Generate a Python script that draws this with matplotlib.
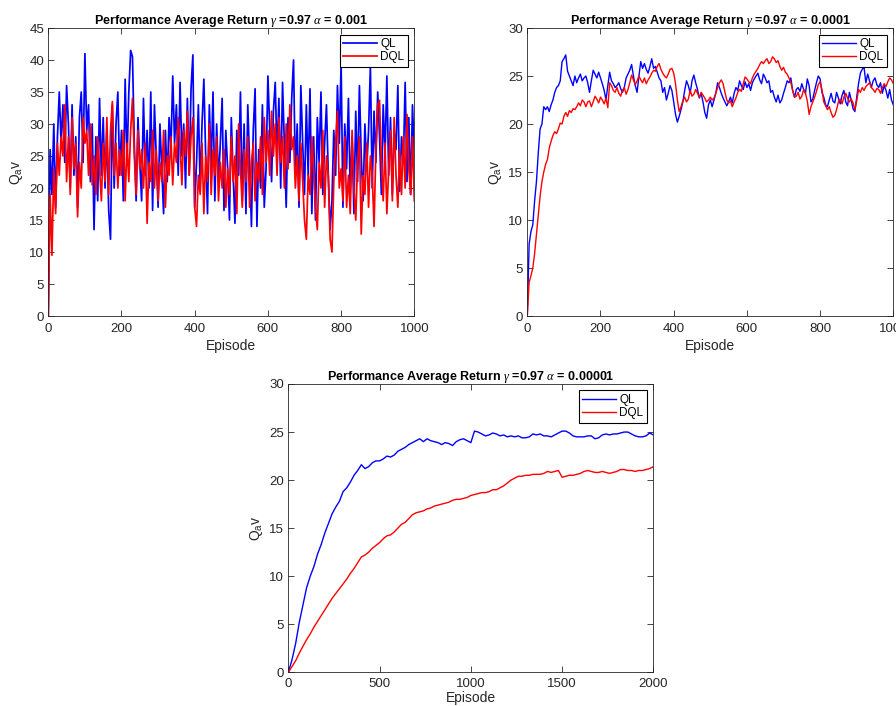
import numpy as np
import matplotlib
matplotlib.use("Agg")
import matplotlib.pyplot as plt

plt.rcParams['font.family'] = ['Liberation Sans', 'DejaVu Sans']
plt.rcParams['mathtext.fontset'] = 'custom'
plt.rcParams['mathtext.rm'] = 'Liberation Sans'
plt.rcParams['mathtext.it'] = 'Liberation Serif:italic'
plt.rcParams['mathtext.bf'] = 'Liberation Sans:bold'

# ---------------- data ----------------
# Plot 1: alpha = 0.001 (episodes every 5)
ep1_step = 5
ql_a1 = [0, 26, 19, 30, 17, 28, 35, 27, 33, 24, 36, 30, 20, 33, 22, 28, 17, 31, 35, 24,
         41, 29, 33, 21, 30, 13.5, 28, 18, 34, 22, 31, 20, 29, 16.5, 12, 33, 20, 30, 35, 22,
         29, 18, 37, 24, 35, 41.5, 40.5, 27, 18, 31, 24, 18, 34, 22, 29, 20, 35, 16.5, 33, 25,
         17, 30, 23, 16, 29, 21, 31, 26, 37.5, 27, 33, 22, 36.5, 25, 30, 20, 34, 22, 35.5, 40.8,
         17, 24, 33, 20, 30, 37, 25, 16, 33, 23, 35, 18, 30, 21, 27, 34, 16.5, 29, 23, 15,
         31, 22, 14.5, 29, 22, 35, 18, 30, 16, 33, 24, 14, 29, 35.5, 14, 26, 20, 33, 17, 23,
         37.5, 29, 21, 32, 36.5, 25, 34, 20, 36.5, 27, 17, 31, 24, 34, 40, 22, 30, 17, 36, 27,
         19, 33, 22, 35.5, 16, 28, 15, 31, 24, 35, 19, 27, 33, 22, 13.5, 18, 29, 22, 36, 27,
         39.5, 17, 30, 23, 34, 19, 28, 16, 32, 21, 36, 25, 18, 30, 23, 29, 39, 20, 32, 24,
         35, 28, 19, 33, 25, 37.5, 22, 31, 19, 29, 26, 36, 19.5, 28, 24, 36.5, 21, 31, 19, 33,
         25]
dql_a1 = [0, 19, 9.5, 23, 16, 27, 22, 28, 25, 33, 21, 28, 19, 31, 23, 27, 15.5, 24, 20, 31,
          27, 29, 22, 30, 20.5, 25, 19, 28, 23, 18, 27, 21, 31, 19, 29, 33.5, 22, 27, 20, 26,
          22, 29, 18, 27, 21, 29, 34, 25, 19, 29, 23, 26, 20, 27, 14.5, 24, 21, 29, 20, 26,
          18, 24, 21, 29, 17, 25, 22, 28, 20.5, 27, 24, 31, 27, 20.5, 29, 25, 32, 22, 28, 31,
          17, 14, 22, 19, 27, 16, 25, 21, 30, 19, 26, 22, 28, 18, 24, 20, 26, 17, 23, 19,
          28, 21, 25, 16, 30, 23, 17, 26, 21, 28, 17, 24, 27, 18, 24, 21, 28, 19, 31, 24,
          29, 22, 32, 25, 30, 22, 31, 24, 28, 20, 30, 23, 33, 26, 28, 20, 25, 18, 27, 21,
          15, 12, 22, 19, 28, 23, 17, 13.5, 24, 20, 29, 17, 25, 22, 12, 10, 21, 27, 32, 20,
          23, 18, 28, 17, 22, 16, 29, 20, 15, 24, 28, 12.8, 22, 19, 27, 17, 25, 22, 14, 26,
          33, 33.7, 24, 18, 27, 16, 23, 29, 18, 31, 22, 17, 26, 19, 28, 20, 31.5, 23, 19, 28,
          18]

# Plot 2: alpha = 0.0001 (episodes every 5)
ep2_step = 5
ql_a2 = [0, 7.5, 8.8, 9.5, 12, 14, 17, 19.5, 20, 21.8, 21.5, 21.8, 21.3, 22, 22.5, 23.3, 23.8, 24, 24.5, 26.5,
         26.8, 27.2, 25.5, 25, 24.5, 24, 25, 24.3, 24.8, 25.2, 24.5, 24.8, 25, 24.3, 23.3, 24.5, 25.6, 25.2, 24.8, 25.4,
         24.8, 24.2, 23.5, 22.5, 24, 25.4, 24.5, 24.2, 23.8, 24, 24.3, 23.7, 23.3, 23.8, 24.8, 25.2, 25.6, 26.2, 25, 24,
         23.3, 25, 26.5, 25.8, 26.3, 25.7, 25.3, 26, 26.8, 25.8, 26, 25.4, 24.8, 24.5, 23.3, 23.8, 22.5, 23.2, 24, 23.5,
         22.3, 21, 20.2, 20.8, 21.5, 22.3, 23.5, 24.5, 24, 23.2, 24.5, 25.1, 24.3, 23.6, 22.7, 23.2, 22.3, 21.2, 20.6, 22,
         22.5, 21.8, 22.5, 23.2, 24.3, 23.8, 23.2, 22.7, 22.3, 21.9, 22.3, 22.8, 22.2, 23.2, 23.8, 23.5, 24.5, 24, 23.6, 24.4,
         23.8, 24.2, 23.5, 24.3, 24.7, 25, 25.3, 24.6, 24.2, 25.2, 24.8, 24.3, 24.5, 23.3, 23.5, 22.8, 22.3, 23, 22.2, 22.5,
         23.2, 23.8, 24.5, 24.3, 24.8, 23.5, 22.8, 23.6, 23.8, 23.4, 24.2, 23.6, 23.2, 24.7, 24, 22.3, 22.6, 23.5, 24.3, 25,
         24.7, 23.3, 22.8, 22, 21.8, 22.5, 23.2, 22.4, 22.2, 23.3, 22.7, 22.1, 23, 23.5, 22.3, 21.9, 23.3, 22.5, 21.6, 21.3,
         22.8, 24.2, 25.3, 25.7, 25.9, 24.3, 25.2, 24.5, 23.8, 24.5, 24.8, 24.1, 23.8, 24.3, 23.2, 24, 23.5, 22.7, 23.6, 22.5,
         22]
dql_a2 = [0, 3.5, 4.2, 5, 6.5, 8.5, 10.5, 12.5, 14, 15, 15.8, 16.3, 17.5, 18.2, 18.8, 19.2, 19, 19.5, 20.1, 20,
          20.8, 21.2, 20.8, 21.4, 21.2, 21.6, 21.5, 21.8, 22.2, 21.9, 22.5, 22.3, 21.8, 22.3, 22.4, 21.8, 22.3, 22.9, 22.6, 22.2,
          22.8, 22.5, 22.1, 22.7, 21.7, 24.3, 24, 23.5, 23.3, 23.8, 23.2, 22.9, 23.5, 23.8, 23.1, 23.6, 24.3, 25.1, 24.6, 24.1,
          24.5, 25, 24.6, 24.3, 24.8, 24.2, 24.6, 24.9, 25.3, 25.6, 25.5, 26, 26.3, 25.7, 25.3, 25, 24.8, 25.2, 25.7, 25.8,
          25.3, 24.2, 22.5, 21.3, 21.8, 22.4, 22.8, 22.3, 22.6, 23.5, 22.9, 23.1, 23.6, 23.2, 22.8, 23.3, 23, 22.7, 22.3, 22.5,
          22.8, 22.5, 22.7, 23.2, 23.8, 24.3, 24.6, 24.2, 23.3, 22.5, 22.2, 22.4, 21.8, 22.3, 22.7, 23.3, 23.6, 23.4, 24.2, 24.9,
          24.7, 24.4, 24.2, 24.8, 25.2, 25.5, 25.8, 26.2, 26.5, 26.3, 26.6, 26.8, 26.3, 26.5, 27, 26.8, 26.4, 26.6, 26, 25.6,
          25.9, 25.4, 25.2, 24.8, 24.3, 23.5, 22.8, 22.9, 23.3, 22.6, 22.9, 23.6, 23.2, 22.4, 21, 21.8, 22.3, 22.8, 23.4, 24.1,
          24.4, 23.6, 22.3, 21.9, 21.5, 21.8, 21.2, 20.7, 20.9, 21.5, 22.3, 22.6, 22.1, 22.8, 23.2, 22.7, 22.3, 22.6, 22.2, 21.5,
          22.4, 23.6, 23.3, 23.8, 23.5, 23.9, 24.1, 24.3, 23.8, 23.6, 23.3, 23.7, 23.6, 23.2, 23.8, 24.2, 23.9, 24.4, 24.8, 24.6,
          24.2]

# Plot 3: alpha = 0.00001 (episodes every 20)
ep3_step = 20
ql_a3 = [0, 1.3, 3.0, 5.2, 7.0, 8.8, 10.0, 11.0, 12.3, 13.3, 14.5, 15.5, 16.5, 17.2, 17.8, 18.8, 19.2, 19.8, 20.5, 21.0,
         21.6, 21.2, 21.4, 21.8, 22.0, 22.0, 22.2, 22.5, 22.4, 22.6, 23.0, 23.2, 23.4, 23.7, 23.9, 24.1, 24.3, 24.0, 24.3, 24.1,
         24.0, 23.9, 23.7, 23.9, 23.8, 23.6, 24.0, 24.2, 24.3, 24.1, 23.9, 25.1, 25.0, 24.8, 24.6, 24.7, 24.9, 24.8, 24.6, 24.7,
         24.5, 24.6, 24.5, 24.6, 24.4, 24.4, 24.5, 24.8, 24.7, 24.8, 24.6, 24.6, 24.5, 24.7, 24.9, 25.1, 25.1, 24.9, 24.6, 24.5,
         24.5, 24.5, 24.6, 24.6, 24.3, 24.4, 24.7, 24.8, 24.7, 24.8, 24.8, 24.9, 25.0, 25.0, 24.8, 24.6, 24.5, 24.5, 24.6, 24.9,
         24.7]
dql_a3 = [0, 0.6, 1.2, 2.0, 2.7, 3.4, 4.0, 4.7, 5.3, 5.9, 6.5, 7.1, 7.7, 8.2, 8.7, 9.2, 9.7, 10.3, 10.8, 11.4,
          12.0, 12.2, 12.5, 12.9, 13.2, 13.5, 13.9, 14.2, 14.3, 14.6, 15.0, 15.4, 15.6, 16.0, 16.4, 16.6, 16.7, 16.8, 17.0, 17.1,
          17.3, 17.4, 17.5, 17.6, 17.7, 17.9, 18.0, 18.0, 18.1, 18.2, 18.4, 18.5, 18.6, 18.7, 18.7, 18.8, 19.0, 19.0, 19.2, 19.4,
          19.7, 20.0, 20.2, 20.4, 20.4, 20.5, 20.5, 20.6, 20.6, 20.6, 20.7, 20.9, 20.8, 20.9, 21.0, 20.3, 20.4, 20.5, 20.5, 20.6,
          20.7, 20.9, 21.0, 20.9, 20.8, 20.8, 20.9, 20.8, 20.7, 20.8, 20.9, 21.1, 21.1, 21.0, 21.0, 20.9, 21.0, 21.0, 21.1, 21.2,
          21.4]

titles = [r'Performance Average Return $\gamma$ =0.97 $\alpha$ = 0.001',
          r'Performance Average Return $\gamma$ =0.97 $\alpha$ = 0.0001',
          r'Performance Average Return $\gamma$ =0.97 $\alpha$ = 0.00001']
series_names = ['QL', 'DQL']

# ---------------- figure ----------------
fig = plt.figure(figsize=(8.96, 7.06), dpi=100)
gray = (0.15, 0.15, 0.15)

panels = [
    ([0.0539, 0.5524, 0.4085, 0.4079], ql_a1, dql_a1, ep1_step, (0, 1000), (0, 45),
     np.arange(0, 1001, 200), np.arange(0, 46, 5), titles[0], 1.25, 3),
    ([0.5885, 0.5524, 0.4085, 0.4079], ql_a2, dql_a2, ep2_step, (0, 1000), (0, 30),
     np.arange(0, 1001, 200), np.arange(0, 31, 5), titles[1], 1.0, 3),
    ([0.3218, 0.0477, 0.4074, 0.4084], ql_a3, dql_a3, ep3_step, (0, 2000), (0, 30),
     np.arange(0, 2001, 500), np.arange(0, 31, 5), titles[2], 1.0, 1),
]

for rect, ql, dql, step, xl, yl, xt, yt, title, lw, xlpad in panels:
    ax = fig.add_axes(rect)
    x_ql = np.arange(len(ql)) * step
    x_dql = np.arange(len(dql)) * step
    ax.plot(x_ql, ql, color=(0, 0, 1), lw=lw, label=series_names[0])
    ax.plot(x_dql, dql, color=(1, 0, 0), lw=lw, label=series_names[1])
    ax.set_xlim(*xl)
    ax.set_ylim(*yl)
    ax.set_xticks(xt)
    ax.set_yticks(yt)
    ax.tick_params(direction='in', top=True, right=True, length=4, width=0.6,
                   labelsize=9.5, colors=gray)
    ax.tick_params(axis='x', pad=5 if xlpad > 1 else 4)
    ax.tick_params(axis='y', pad=3)
    for sp in ax.spines.values():
        sp.set_color(gray)
        sp.set_linewidth(0.6)
    ax.set_title(title, fontsize=9, fontweight='bold', pad=3)
    ax.set_xlabel('Episode', fontsize=10, color=gray, labelpad=xlpad)
    ax.set_ylabel(r'Q$_\mathrm{a}$v', fontsize=10, color=gray, labelpad=3)
    leg = ax.legend(loc='upper right', fontsize=8.5, frameon=True, fancybox=False,
                    edgecolor='black', framealpha=1, handlelength=2.9,
                    handletextpad=0.25, borderpad=0.3, labelspacing=0.1,
                    borderaxespad=0.55)
    leg.get_frame().set_linewidth(0.8)

fig.savefig('out.png', dpi=100)
